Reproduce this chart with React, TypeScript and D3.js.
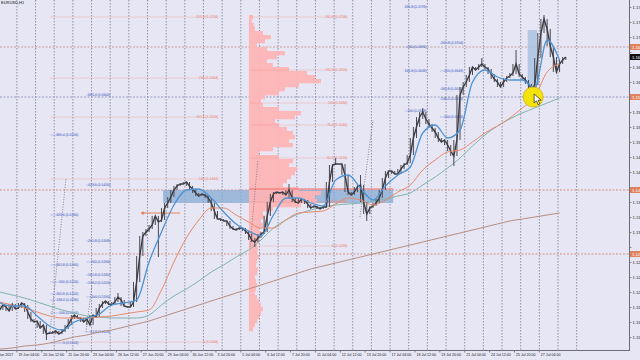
import React from 'react';
import * as d3 from 'd3';

const W = 640;
const H = 360;
const PLOT_R = 629;
const PLOT_B = 350;

// H1 closes, sampled every 4 bars starting at bar 10
const closeStartBar = 10;
const closeStep = 4;
const closes = [1.1170, 1.1180, 1.1176, 1.1168, 1.1182, 1.1172, 1.1174, 1.1184, 1.1180, 1.1166, 1.1152, 1.1146, 1.1148, 1.1134, 1.1140, 1.1122, 1.1124, 1.1124, 1.1128, 1.1122, 1.1126, 1.1132, 1.1140, 1.1152, 1.1160, 1.1154, 1.1154, 1.1146, 1.1152, 1.1140, 1.1160, 1.1156, 1.1174, 1.1182, 1.1188, 1.1182, 1.1180, 1.1186, 1.1196, 1.1190, 1.1178, 1.1176, 1.1176, 1.1186, 1.1226, 1.1278, 1.1318, 1.1326, 1.1332, 1.1340, 1.1358, 1.1346, 1.1350, 1.1374, 1.1384, 1.1396, 1.1410, 1.1418, 1.1422, 1.1422, 1.1426, 1.1418, 1.1412, 1.1404, 1.1398, 1.1402, 1.1400, 1.1394, 1.1384, 1.1368, 1.1352, 1.1352, 1.1348, 1.1348, 1.1338, 1.1332, 1.1330, 1.1334, 1.1334, 1.1328, 1.1322, 1.1310, 1.1306, 1.1314, 1.1322, 1.1326, 1.1358, 1.1386, 1.1402, 1.1406, 1.1404, 1.1406, 1.1400, 1.1410, 1.1394, 1.1386, 1.1384, 1.1392, 1.1390, 1.1382, 1.1374, 1.1378, 1.1376, 1.1372, 1.1376, 1.1376, 1.1426, 1.1460, 1.1462, 1.1462, 1.1462, 1.1440, 1.1406, 1.1400, 1.1406, 1.1416, 1.1420, 1.1386, 1.1362, 1.1374, 1.1378, 1.1384, 1.1394, 1.1410, 1.1434, 1.1448, 1.1448, 1.1442, 1.1442, 1.1452, 1.1460, 1.1464, 1.1480, 1.1514, 1.1536, 1.1556, 1.1566, 1.1552, 1.1542, 1.1534, 1.1526, 1.1514, 1.1506, 1.1510, 1.1500, 1.1488, 1.1478, 1.1510, 1.1600, 1.1616, 1.1626, 1.1640, 1.1656, 1.1650, 1.1656, 1.1662, 1.1656, 1.1652, 1.1642, 1.1632, 1.1626, 1.1616, 1.1626, 1.1634, 1.1638, 1.1644, 1.1662, 1.1642, 1.1636, 1.1630, 1.1622, 1.1612, 1.1620, 1.1674, 1.1724, 1.1752, 1.1732, 1.1698, 1.1676, 1.1646, 1.1662, 1.1670, 1.1676];

// notable wicks: sample index -> extreme price
const spikeIdx = [15, 38, 51, 82, 93, 108, 116, 118, 136, 146, 155, 166, 175];
const spikePrice = [1.1110, 1.1204, 1.1276, 1.1296, 1.1422, 1.1474, 1.1440, 1.1348, 1.1574, 1.1458, 1.1674, 1.1690, 1.1760];

// moving averages, sampled every 16 bars from bar 10
const maStartBar = 10;
const maStep = 16;
const maFast = [1.1184, 1.1178, 1.1178, 1.1158, 1.1138, 1.1130, 1.1146, 1.1154, 1.1162, 1.1180, 1.1184, 1.1190, 1.1266, 1.1326, 1.1380, 1.1410, 1.1412, 1.1394, 1.1366, 1.1342, 1.1328, 1.1318, 1.1360, 1.1394, 1.1394, 1.1384, 1.1378, 1.1430, 1.1440, 1.1414, 1.1390, 1.1418, 1.1440, 1.1456, 1.1524, 1.1540, 1.1514, 1.1530, 1.1626, 1.1650, 1.1636, 1.1630, 1.1630, 1.1614, 1.1710, 1.1670];
const maMid = [1.1186, 1.1180, 1.1174, 1.1166, 1.1158, 1.1154, 1.1154, 1.1154, 1.1156, 1.1158, 1.1162, 1.1166, 1.1170, 1.1210, 1.1266, 1.1314, 1.1350, 1.1374, 1.1374, 1.1360, 1.1346, 1.1334, 1.1334, 1.1350, 1.1364, 1.1366, 1.1368, 1.1382, 1.1394, 1.1390, 1.1380, 1.1390, 1.1406, 1.1420, 1.1450, 1.1470, 1.1486, 1.1490, 1.1506, 1.1524, 1.1538, 1.1554, 1.1574, 1.1596, 1.1646, 1.1662];
const maSlow = [1.1206, 1.1200, 1.1194, 1.1186, 1.1178, 1.1170, 1.1164, 1.1158, 1.1156, 1.1154, 1.1154, 1.1154, 1.1160, 1.1180, 1.1198, 1.1212, 1.1228, 1.1246, 1.1260, 1.1276, 1.1290, 1.1310, 1.1334, 1.1350, 1.1362, 1.1370, 1.1376, 1.1380, 1.1382, 1.1384, 1.1388, 1.1392, 1.1398, 1.1404, 1.1420, 1.1436, 1.1454, 1.1474, 1.1498, 1.1520, 1.1538, 1.1552, 1.1564, 1.1574, 1.1584, 1.1594];
const maLong = [1.1092, 1.1094, 1.1098, 1.1100, 1.1104, 1.1110, 1.1116, 1.1120, 1.1126, 1.1130, 1.1136, 1.1142, 1.1148, 1.1156, 1.1164, 1.1172, 1.1180, 1.1188, 1.1196, 1.1204, 1.1212, 1.1220, 1.1228, 1.1236, 1.1244, 1.1252, 1.1258, 1.1264, 1.1270, 1.1276, 1.1282, 1.1288, 1.1294, 1.1300, 1.1306, 1.1312, 1.1318, 1.1324, 1.1330, 1.1336, 1.1342, 1.1348, 1.1352, 1.1356, 1.1360, 1.1364];

// volume profile (top level price, bin size, volumes)
const volTopPrice = 1.1756;
const volBin = 0.0008;
const volAnchorBar = 330.5;
const volumes = [4, 3, 5, 6, 14, 22, 16, 8, 18, 36, 28, 18, 24, 40, 58, 66, 72, 50, 36, 30, 16, 12, 14, 30, 52, 46, 26, 30, 38, 44, 46, 40, 44, 24, 10, 30, 44, 40, 48, 46, 42, 38, 34, 50, 72, 66, 68, 52, 24, 14, 16, 12, 14, 10, 12, 10, 10, 8, 9, 8, 10, 8, 7, 9, 8, 6, 7, 8, 7, 6, 8, 10, 12, 14, 12, 10, 8, 6, 4];
const pocPrice = 1.1412;
const pocBars = [330.5, 516];

// zones
const bandBars = [220, 516];
const bandPrices = [1.1410, 1.1384];
const vRectBars = [689, 701];
const vRectPrices = [1.1730, 1.1604];
const markerBars = [194, 242];
const markerPrice = 1.1364;
const highlightBar = 696;
const highlightPrice = 1.1596;

// horizontal lines and axis
const hLinePrices = [1.1696, 1.1596, 1.1410, 1.1282];
const hLineColors = ['#c79a96', '#8f94b4', '#d38a7c', '#d38a7c'];
const bidPrice = 1.1676;
const priceTicks = [1.1775, 1.1745, 1.1715, 1.1685, 1.1655, 1.1625, 1.1595, 1.1565, 1.1535, 1.1505, 1.1475, 1.1445, 1.1415, 1.1385, 1.1355, 1.1325, 1.1295, 1.1265, 1.1235, 1.1205, 1.1175, 1.1145, 1.1115];
const timeLabels = ['16 Jun 2017', '19 Jun 04:00', '20 Jun 12:00', '21 Jun 20:00', '23 Jun 04:00', '26 Jun 12:00', '27 Jun 20:00', '29 Jun 04:00', '30 Jun 12:00', '3 Jul 20:00', '5 Jul 04:00', '6 Jul 12:00', '7 Jul 20:00', '11 Jul 04:00', '12 Jul 12:00', '13 Jul 20:00', '17 Jul 04:00', '18 Jul 12:00', '19 Jul 20:00', '21 Jul 04:00', '24 Jul 12:00', '25 Jul 20:00', '27 Jul 04:00'];
const timeLabelStep = 32;
const gridStartBar = 32;
const gridStep = 24;
const gridEndBar = 760;

// fibonacci objects
const fibA_ratios = ['261.8', '200', '161.8', '100', '0'];
const fibA_prices = [1.1756, 1.1634, 1.1556, 1.1432, 1.1106];
const fibB_ratios = ['261.8', '161.8', '100', '76.4', '61.8', '38.2', '0'];
const fibB_prices = [1.1756, 1.1650, 1.1584, 1.1540, 1.1474, 1.1386, 1.1298];
const fibC_ratios = ['685.4', '423.6', '261.8', '200', '161.8', '138.2', '100', '0'];
const fibC_prices = [1.1520, 1.1360, 1.1260, 1.1226, 1.1202, 1.1190, 1.1164, 1.1104];
const fibD_ratios = ['685.4', '423.6', '261.8', '200', '161.8', '138.2', '100', '61.8'];
const fibD_prices = [1.1600, 1.1420, 1.1308, 1.1266, 1.1240, 1.1224, 1.1196, 1.1126];
const fibE_ratios = ['261.8', '200', '161.8', '100'];
const fibE_prices = [1.1776, 1.1696, 1.1648, 1.1568];
const fibF_ratios = ['261.8', '200', '161.8', '138.2', '100'];
const fibF_prices = [1.1704, 1.1648, 1.1612, 1.1592, 1.1556];

const trendBars = [[74.6, 95.2], [120.9, 128.6], [331.8, 342], [473.3, 490]];
const trendPrices = [[1.1126, 1.1434], [1.1126, 1.1220], [1.1296, 1.1470], [1.1356, 1.1550]];

const SALMON = '#ee8a78';
const BLUE_TXT = '#5a72c8';

const fibSets = [
  { ratios: fibA_ratios, prices: fibA_prices, from: 75, to: 291, color: SALMON },
  { ratios: fibB_ratios, prices: fibB_prices, from: 332, to: 457, color: SALMON },
  { ratios: fibC_ratios, prices: fibC_prices, from: 75, to: 111, color: BLUE_TXT },
  { ratios: fibD_ratios, prices: fibD_prices, from: 121, to: 152, color: BLUE_TXT },
  { ratios: fibE_ratios, prices: fibE_prices, from: 531, to: 559, color: BLUE_TXT },
  { ratios: fibF_ratios, prices: fibF_prices, from: 576, to: 606, color: BLUE_TXT },
];

export default function App() {
  const x = d3.scaleLinear().domain([0, 800]).range([-8, 614]);
  const y = d3.scaleLinear().domain([1.1096, 1.1790]).range([347, 0]);
  const vx = d3.scaleLinear().domain([0, 100]).range([0, 100]);
  const font = 'Liberation Sans, DejaVu Sans, sans-serif';

  const closeBar = (i: number) => closeStartBar + closeStep * i;
  const maBar = (i: number) => maStartBar + maStep * i;

  const priceLine = d3.line<number>().x((_, i) => x(closeBar(i))).y((d) => y(d))(closes) || '';
  const maPath = (arr: number[]) => d3.line<number>().x((_, i) => x(maBar(i))).y((d) => y(d)).curve(d3.curveMonotoneX)(arr) || '';

  const gridBars = d3.range(gridStartBar, gridEndBar + 1, gridStep);
  const fmt = (p: number) => p.toFixed(5);
  const marked = [...hLinePrices, bidPrice];
  const visibleTicks = priceTicks.filter((p) => marked.every((m) => Math.abs(y(m) - y(p)) > 7));

  return (
    <svg width={W} height={H} style={{ position: 'absolute', left: 0, top: 0 }} fontFamily={font}>
      <defs>
        <clipPath id="plot"><rect x={0} y={0} width={PLOT_R} height={PLOT_B} /></clipPath>
      </defs>
      <rect x={0} y={0} width={W} height={H} fill="#e6e6f5" />
      <g clipPath="url(#plot)">
        {gridBars.map((b) => (
          <line key={'g' + b} x1={x(b)} x2={x(b)} y1={0} y2={PLOT_B} stroke="#7c7c92" strokeWidth={0.8} strokeDasharray="1.5,1.5" />
        ))}
        {hLinePrices.map((p, i) => (
          <line key={'h' + i} x1={0} x2={PLOT_R} y1={y(p)} y2={y(p)} stroke={hLineColors[i]} strokeWidth={0.9} strokeDasharray="2,1.5" />
        ))}
        <rect x={x(bandBars[0])} y={y(bandPrices[0])} width={x(bandBars[1]) - x(bandBars[0])} height={y(bandPrices[1]) - y(bandPrices[0])} fill="#86aad0" opacity={0.75} />
        <rect x={x(vRectBars[0])} y={y(vRectPrices[0])} width={x(vRectBars[1]) - x(vRectBars[0])} height={y(vRectPrices[1]) - y(vRectPrices[0])} fill="#a9c2e2" opacity={0.85} />
        {volumes.map((v, i) => {
          const p = volTopPrice - volBin * i;
          const y0 = y(p + volBin / 2);
          const y1 = y(p - volBin / 2);
          return <rect key={'v' + i} x={x(volAnchorBar)} y={y0} width={vx(v)} height={y1 - y0 + 0.3} fill="#ffb4b4" opacity={0.9} />;
        })}
        <line x1={x(pocBars[0])} x2={x(pocBars[1])} y1={y(pocPrice)} y2={y(pocPrice)} stroke="#ef6a6a" strokeWidth={1} />
        {fibSets.map((s, si) => (
          <g key={'f' + si}>
            {s.prices.map((p, i) => (
              <g key={i}>
                <line x1={x(s.from)} x2={x(s.to)} y1={y(p)} y2={y(p)} stroke={s.color} strokeWidth={0.5} opacity={0.6} />
                <text x={x(s.to)} y={y(p) + 1.2} fontSize={3.4} fill={s.color} textAnchor="end">{`${s.ratios[i]} (${p.toFixed(4)})`}</text>
              </g>
            ))}
          </g>
        ))}
        {trendBars.map((tb, i) => (
          <line key={'t' + i} x1={x(tb[0])} x2={x(tb[1])} y1={y(trendPrices[i][0])} y2={y(trendPrices[i][1])} stroke="#6b6b80" strokeWidth={0.8} strokeDasharray="1,1.5" />
        ))}
        <line x1={x(markerBars[0])} x2={x(markerBars[1])} y1={y(markerPrice)} y2={y(markerPrice)} stroke="#e8825a" strokeWidth={1.2} />
        <circle cx={x(markerBars[0])} cy={y(markerPrice)} r={1.6} fill="#e8825a" />
        <path d={maPath(maLong)} fill="none" stroke="#b88e7e" strokeWidth={1} />
        <path d={maPath(maSlow)} fill="none" stroke="#7fb4ac" strokeWidth={1} />
        {closes.map((c, i) => {
          const prev = i > 0 ? closes[i - 1] : c;
          const next = i < closes.length - 1 ? closes[i + 1] : c;
          const hi = Math.max(prev, c, next);
          const lo = Math.min(prev, c, next);
          return <line key={'r' + i} x1={x(closeBar(i))} x2={x(closeBar(i))} y1={y(hi)} y2={y(lo)} stroke="#4a4a50" strokeWidth={1} />;
        })}
        {spikeIdx.map((si, i) => (
          <line key={'s' + i} x1={x(closeBar(si))} x2={x(closeBar(si))} y1={y(closes[si])} y2={y(spikePrice[i])} stroke="#4a4a50" strokeWidth={1} />
        ))}
        <path d={priceLine} fill="none" stroke="#3c3c42" strokeWidth={1.4} />
        <path d={maPath(maMid)} fill="none" stroke="#e98a6a" strokeWidth={1} />
        <path d={maPath(maFast)} fill="none" stroke="#4f92d4" strokeWidth={1.3} />
        <circle cx={x(highlightBar)} cy={y(highlightPrice)} r={10} fill="#f4e20c" stroke="#d9b400" strokeWidth={0.8} />
        <path transform={`translate(${x(highlightBar) + 1},${y(highlightPrice) - 3})`} d="M0,0 L0,9 L2.3,6.8 L4,10.6 L5.6,9.9 L4,6.2 L7,6.2 Z" fill="#ffffff" stroke="#000000" strokeWidth={0.6} />
      </g>
      <text x={1} y={4} fontSize={4} fill="#111">EURUSD,H1</text>
      <line x1={PLOT_R + 0.5} x2={PLOT_R + 0.5} y1={0} y2={PLOT_B + 1} stroke="#6d6d78" strokeWidth={1} />
      <line x1={0} x2={PLOT_R + 1} y1={PLOT_B + 0.5} y2={PLOT_B + 0.5} stroke="#6d6d78" strokeWidth={1} />
      {priceTicks.map((p) => (
        <line key={'pk' + p} x1={PLOT_R} x2={PLOT_R + 2.5} y1={y(p)} y2={y(p)} stroke="#6d6d78" strokeWidth={0.8} />
      ))}
      {visibleTicks.map((p) => (
        <text key={'pt' + p} x={PLOT_R + 3.5} y={y(p) + 1.5} fontSize={4.2} fill="#222">{fmt(p)}</text>
      ))}
      {hLinePrices.map((p, i) => (
        <g key={'hl' + i}>
          <rect x={PLOT_R + 1} y={y(p) - 3} width={12} height={6} fill="#e0825e" />
          <text x={PLOT_R + 3} y={y(p) + 1.5} fontSize={4.2} fill="#fff">{fmt(p)}</text>
        </g>
      ))}
      <rect x={PLOT_R + 1} y={y(bidPrice) - 3} width={12} height={6} fill="#111" />
      <text x={PLOT_R + 3} y={y(bidPrice) + 1.5} fontSize={4.2} fill="#fff">{fmt(bidPrice)}</text>
      {timeLabels.map((t, i) => {
        const bx = x(i * timeLabelStep);
        return (
          <g key={'tl' + i}>
            <line x1={bx} x2={bx} y1={PLOT_B} y2={PLOT_B + 2.5} stroke="#6d6d78" strokeWidth={0.8} />
            <text x={bx + 1.5} y={PLOT_B + 6} fontSize={3.6} fill="#222">{t}</text>
          </g>
        );
      })}
    </svg>
  );
}
